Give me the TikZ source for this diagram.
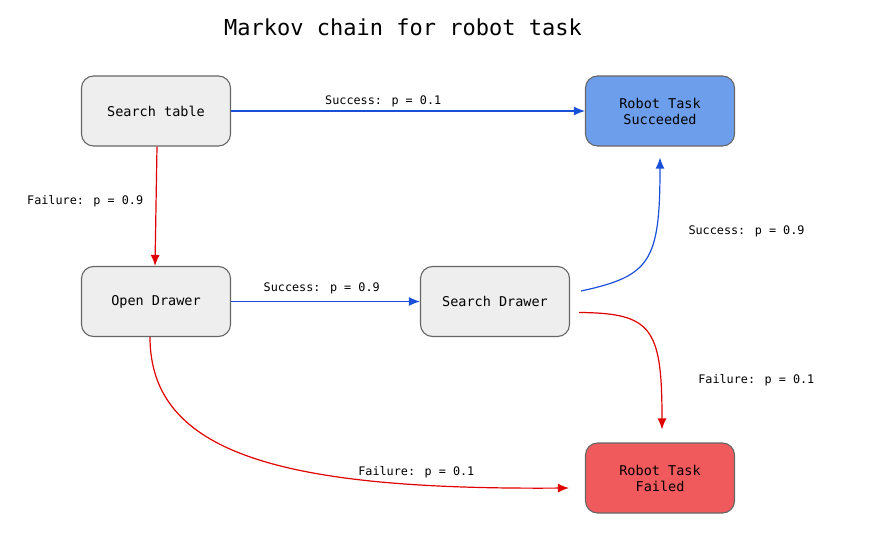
\documentclass[tikz,border=0pt]{standalone}
\usepackage{fontspec}
\setmainfont{DejaVu Sans Mono}
\usepackage{tikz}
\usetikzlibrary{shapes,arrows.meta,positioning}
\definecolor{boxgray}{RGB}{102,102,102}
\definecolor{lgray}{RGB}{238,238,238}
\definecolor{succblue}{RGB}{109,158,235}
\definecolor{failred}{RGB}{240,90,92}
\definecolor{lineblue}{RGB}{26,80,216}
\definecolor{linered}{RGB}{224,0,0}
\tikzset{
    block/.style={
        rectangle, rounded corners=12pt,
        minimum width=149pt, minimum height=70pt,
        inner sep=0pt, align=center,
        line width=1.1pt,
        draw=boxgray, fill=lgray,
        font=\fontsize{13.5}{16}\selectfont
    },
    title/.style={
        font=\fontsize{22}{26}\selectfont
    },
    connector/.style={
        line width=1.2pt,
        -{Latex[length=11pt,width=9pt]},
        font=\fontsize{11.8}{14}\selectfont
    },
    success connector/.style={
        connector, draw=lineblue
    },
    failure connector/.style={
        connector, draw=linered
    },
    descr/.style={
        text=black
    }
}
\begin{document}
\begin{tikzpicture}[x=1pt,y=-1pt]
    \useasboundingbox (0,0) rectangle (880,543);
    \node[title] (title) at (403,27) {Markov chain for robot task};

    \node[block] (stable) at (156,111) {Search table};
    \node[block] (odrawer) at (156,301.5) {Open Drawer};
    \node[block] (sdrawer) at (495,301.5) {Search Drawer};
    \node[block, fill=succblue] (succ) at (660,111) {Robot Task\\Succeeded};
    \node[block, fill=failred] (fail) at (660,478) {Robot Task\\Failed};

    % transitions
    \draw[success connector] (stable) -- node[descr, above, pos=0.43] {Success: p = 0.1} (succ);
    \draw[failure connector] ([xshift=1pt]stable.south) -- node[descr, anchor=east, pos=0.44, xshift=-9pt, yshift=-2pt] {Failure: p = 0.9} ([xshift=-1pt]odrawer.north);
    \draw[success connector] (odrawer) -- node[descr, above=4pt, pos=0.48] {Success: p = 0.9} (sdrawer);
    \draw[success connector] ([xshift=11pt,yshift=10.5pt]sdrawer.east)
        .. controls (650,276) and (660,262) ..
        node[descr, anchor=west, pos=0.72, xshift=28pt, yshift=-5pt] {Success: p = 0.9}
        ([yshift=-11pt]succ.south);
    \draw[failure connector] ([xshift=9pt,yshift=-11pt]sdrawer.east)
        .. controls (652,313) and (662,328) ..
        node[descr, anchor=west, pos=0.8, xshift=34pt, yshift=-2pt] {Failure: p = 0.1}
        ([xshift=2pt,yshift=13pt]fail.north);
    \draw[failure connector] ([xshift=-6pt]odrawer.south)
        .. controls (150,455) and (285,490) ..
        node[descr, above=3pt, pos=0.8] {Failure: p = 0.1}
        ([xshift=-16pt,yshift=-10pt]fail.west);
\end{tikzpicture}
\end{document}
